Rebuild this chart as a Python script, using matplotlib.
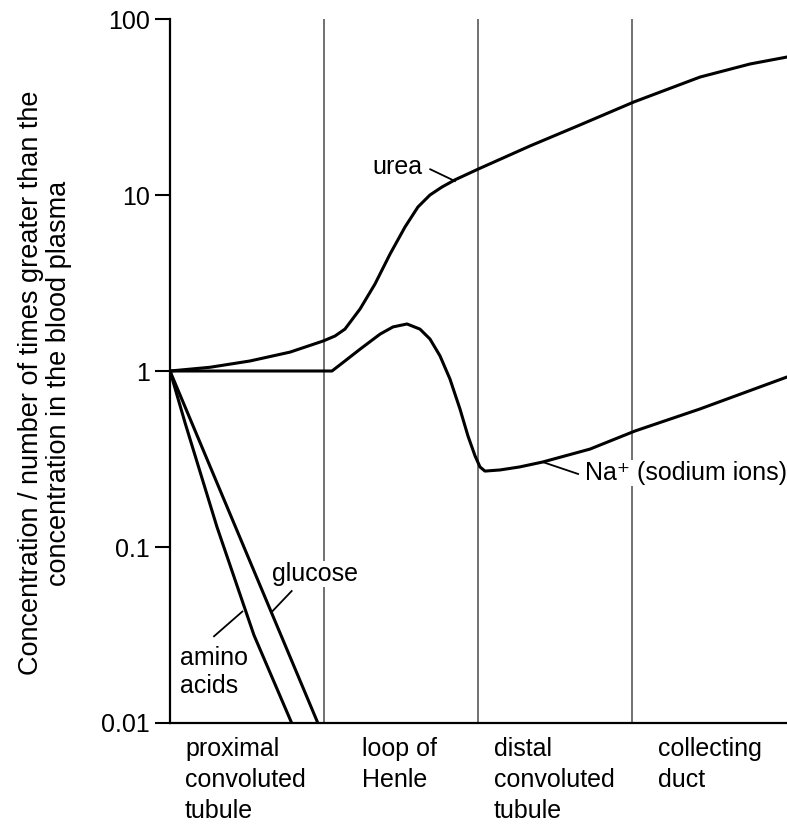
import matplotlib
matplotlib.use('Agg')
import matplotlib.pyplot as plt

plt.rcParams['font.family'] = ['Liberation Sans', 'DejaVu Sans']

# x: position along the nephron (1 unit = one section), y: conc. relative to plasma
urea_x = [0, 0.26, 0.519, 0.779, 0.994, 1.071, 1.136, 1.234, 1.331, 1.429, 1.526, 1.61, 1.688,
          1.766, 1.851, 2.006, 2.338, 2.662, 3.013, 3.442, 3.766, 4.006]
urea_y = [1, 1.05, 1.14, 1.28, 1.48, 1.58, 1.73, 2.25, 3.12, 4.62, 6.58, 8.55, 10.0,
          11.1, 12.2, 14.1, 19.0, 25.0, 33.8, 46.8, 55.5, 60.8]

na_x = [0, 1.052, 1.136, 1.234, 1.364, 1.448, 1.539, 1.623, 1.688, 1.753, 1.818, 1.883, 1.935,
        1.981, 2.013, 2.045, 2.143, 2.27, 2.42, 2.727, 3.019, 3.44, 4.006]
na_y = [1, 1.0, 1.14, 1.33, 1.62, 1.78, 1.85, 1.73, 1.52, 1.22, 0.90, 0.608, 0.427,
        0.329, 0.285, 0.270, 0.274, 0.285, 0.304, 0.360, 0.456, 0.608, 0.924]

glucose_x = [0, 0.96]
glucose_y = [1, 0.01]

amino_x = [0, 0.1, 0.305, 0.545, 0.79]
amino_y = [1, 0.5, 0.13, 0.0316, 0.01]

sections = ['proximal\nconvoluted\ntubule', 'loop of\nHenle', 'distal\nconvoluted\ntubule', 'collecting\nduct']
section_label_x = [185, 362, 494, 658]  # left edge of each label, px
boundaries = [1, 2, 3]

yticks = [0.01, 0.1, 1, 10, 100]
ytick_labels = ['0.01', '0.1', '1', '10', '100']

W, H = 787, 834
fig = plt.figure(figsize=(W / 100, H / 100), dpi=100)
fig.patch.set_facecolor('white')
ax = fig.add_axes([170 / W, 1 - 723 / H, 1 - 170 / W, (723 - 19) / H])

ax.set_yscale('log')
ax.set_ylim(0.01, 100)
ax.set_xlim(0, 617 / 154)

for b in boundaries:
    ax.axvline(b, color='#4a4a4a', lw=1.1, zorder=1)

LW = 2.2
for xs, ys in [(urea_x, urea_y), (na_x, na_y), (glucose_x, glucose_y), (amino_x, amino_y)]:
    ax.plot(xs, ys, color='black', lw=LW, zorder=3, solid_joinstyle='round')

FS = 18
ax.set_yticks(yticks)
ax.set_yticklabels(ytick_labels)
ax.yaxis.set_minor_locator(matplotlib.ticker.NullLocator())
ax.set_xticks([])
ax.tick_params(axis='y', direction='out', length=11, width=1.5, pad=3.5, labelsize=FS)
for s in ['top', 'right']:
    ax.spines[s].set_visible(False)
for s in ['left', 'bottom']:
    ax.spines[s].set_linewidth(1.6)

# curve labels with leader lines
box = dict(facecolor='white', edgecolor='none', pad=0.5)
ax.text(1.474, 14.4, 'urea', fontsize=FS, ha='center', va='center', bbox=box)
ax.plot([1.69, 1.85], [14.0, 12.0], color='black', lw=1.3)

ax.text(2.695, 0.263, 'Na⁺ (sodium ions)', fontsize=FS, ha='left', va='center', bbox=box, zorder=4)
ax.plot([2.42, 2.65], [0.304, 0.26], color='black', lw=1.3)

ax.text(0.94, 0.0701, 'glucose', fontsize=FS, ha='center', va='center', bbox=box, zorder=4)
ax.plot([0.79, 0.66], [0.0562, 0.0427], color='black', lw=1.3)

ax.text(0.065, 0.0195, 'amino\nacids', fontsize=FS, ha='left', va='center', linespacing=1.25)
ax.plot([0.286, 0.47], [0.0311, 0.043], color='black', lw=1.3)

for lab, px in zip(sections, section_label_x):
    fig.text(px / W, 1 - 737 / H, lab, fontsize=FS, ha='left', va='top', linespacing=1.38)

fig.text(45 / W, 1 - 383 / H,
         'Concentration / number of times greater than the\nconcentration in the blood plasma',
         fontsize=19.5, rotation=90, ha='center', va='center', multialignment='center',
         linespacing=1.1)

fig.savefig('out.png', dpi=100, facecolor='white')
